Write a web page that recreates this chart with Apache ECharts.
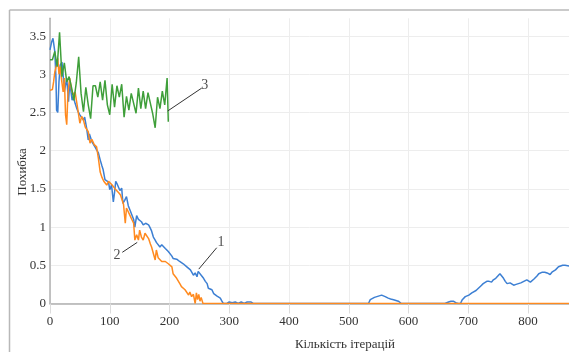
<!DOCTYPE html>
<html>
<head>
<meta charset="utf-8">
<script src="https://cdn.jsdelivr.net/npm/echarts@6/dist/echarts.min.js"></script>
<style>
  html, body { margin: 0; padding: 0; background: #fff; }
  #chart { width: 569px; height: 352px; }
</style>
</head>
<body>
<div id="chart"></div>
<script>
// крива 1 (синя)
const iter1 = [0, 3, 5, 8, 10, 11, 13, 14, 15, 17, 20, 22, 24, 25, 28, 31, 33, 37, 39, 42, 45, 47, 50, 53, 56, 58, 61, 64, 66, 68, 70, 73, 76, 78, 81, 84, 87, 89, 92, 95, 98, 100, 103, 106, 108, 110, 112, 115, 117, 120, 122, 125, 128, 131, 134, 137, 140, 142, 145, 148, 150, 153, 156, 160, 165, 167, 170, 173, 176, 178, 181, 184, 187, 190, 193, 195, 198, 201, 204, 206, 209, 212, 215, 217, 220, 223, 226, 229, 232, 235, 237, 240, 243, 246, 248, 251, 254, 257, 260, 263, 265, 268, 271, 274, 276, 279, 282, 285, 287, 290, 293, 296, 300, 305, 310, 315, 320, 325, 330, 333, 336, 340, 505, 507, 509, 533, 536, 539, 543, 547, 551, 555, 558, 561, 564, 566, 570, 575, 579, 583, 588, 655, 658, 661, 667, 671, 675, 679, 683, 687, 690, 692, 695, 698, 701, 703, 706, 709, 713, 717, 721, 725, 728, 731, 735, 739, 742, 746, 749, 753, 756, 759, 762, 765, 768, 770, 773, 776, 780, 784, 788, 791, 793, 796, 798, 801, 804, 807, 810, 812, 815, 818, 820, 824, 828, 832, 835, 837, 840, 843, 846, 848, 851, 854, 858, 862, 865, 869]
const err1 = [3.32, 3.43, 3.47, 3.30, 2.95, 2.53, 2.50, 2.49, 2.90, 3.12, 3.16, 2.99, 2.77, 2.79, 2.95, 2.64, 2.90, 2.66, 2.71, 2.62, 2.55, 2.51, 2.47, 2.47, 2.40, 2.44, 2.31, 2.14, 2.22, 2.20, 2.12, 2.10, 2.04, 2.01, 1.97, 1.88, 1.80, 1.75, 1.62, 1.60, 1.59, 1.49, 1.55, 1.33, 1.45, 1.60, 1.57, 1.55, 1.48, 1.51, 1.31, 1.35, 1.40, 1.28, 1.22, 1.22, 1.10, 1.00, 1.15, 1.10, 1.09, 1.07, 1.03, 1.05, 1.03, 1.00, 0.95, 0.87, 0.83, 0.80, 0.79, 0.74, 0.77, 0.77, 0.72, 0.70, 0.68, 0.70, 0.62, 0.59, 0.59, 0.58, 0.56, 0.55, 0.57, 0.52, 0.50, 0.48, 0.50, 0.44, 0.42, 0.37, 0.40, 0.35, 0.42, 0.44, 0.36, 0.33, 0.29, 0.26, 0.20, 0.22, 0.18, 0.13, 0.13, 0.10, 0.08, 0.07, 0.04, 0, 0.02, 0, 0.02, 0.01, 0.02, 0, 0.02, 0, 0.02, 0, 0.02, 0, 0, 0.02, 0, 0, 0.05, 0.07, 0.08, 0.09, 0.10, 0.11, 0.10, 0.09, 0.08, 0.07, 0.06, 0.05, 0.04, 0.03, 0, 0, 0.02, 0, 0.02, 0.03, 0.03, 0.01, 0, 0, 0.05, 0.07, 0.09, 0.10, 0.11, 0.12, 0.14, 0.15, 0.17, 0.20, 0.23, 0.26, 0.28, 0.29, 0.29, 0.28, 0.31, 0.33, 0.35, 0.39, 0.36, 0.33, 0.29, 0.26, 0.28, 0.27, 0.25, 0.24, 0.25, 0.26, 0.27, 0.28, 0.29, 0.30, 0.31, 0.29, 0.28, 0.30, 0.32, 0.33, 0.36, 0.39, 0.40, 0.41, 0.41, 0.40, 0.39, 0.38, 0.41, 0.42, 0.44, 0.46, 0.48, 0.50, 0.50, 0.50, 0.51, 0.49]

// крива 2 (помаранчева)
const iter2 = [0, 4, 6, 8, 11, 13, 15, 17, 19, 22, 24, 26, 28, 30, 33, 36, 39, 42, 45, 47, 50, 53, 56, 59, 61, 64, 67, 70, 74, 78, 81, 84, 87, 90, 92, 95, 98, 101, 104, 106, 109, 112, 115, 118, 120, 123, 126, 128, 131, 134, 137, 139, 140, 142, 145, 148, 150, 153, 156, 159, 162, 165, 168, 170, 173, 176, 178, 181, 184, 187, 190, 193, 195, 198, 201, 204, 206, 209, 212, 215, 218, 220, 223, 226, 229, 232, 234, 237, 240, 243, 245, 247, 249, 251, 253, 256, 259, 869]
const err2 = [2.79, 2.80, 2.90, 3.03, 3.12, 3.21, 3.00, 3.10, 2.95, 2.77, 2.95, 2.47, 2.34, 2.75, 2.95, 2.80, 2.73, 2.77, 2.62, 2.60, 2.36, 2.45, 2.40, 2.31, 2.29, 2.25, 2.10, 2.15, 2.08, 2.05, 1.90, 1.72, 1.65, 1.60, 1.62, 1.55, 1.60, 1.58, 1.55, 1.57, 1.50, 1.52, 1.45, 1.42, 1.40, 1.30, 1.05, 1.25, 1.27, 1.15, 1.10, 1.09, 1.05, 0.83, 0.90, 0.83, 0.96, 0.87, 0.83, 0.92, 0.94, 0.85, 0.78, 0.74, 0.72, 0.57, 0.70, 0.60, 0.59, 0.55, 0.56, 0.55, 0.57, 0.52, 0.53, 0.48, 0.39, 0.36, 0.33, 0.31, 0.25, 0.22, 0.24, 0.18, 0.18, 0.11, 0.15, 0.09, 0.12, 0, 0.14, 0.05, 0.12, 0.03, 0.08, 0, 0, 0]

// крива 3 (зелена)
const iter3 = [0, 4, 8, 12, 16, 20, 24, 28, 32, 36, 40, 44, 48, 52, 56, 60, 64, 68, 72, 76, 80, 84, 88, 92, 96, 100, 104, 108, 112, 116, 120, 124, 128, 132, 136, 140, 144, 148, 152, 156, 160, 164, 168, 172, 176, 180, 184, 188, 192, 196, 198]
const err3 = [3.19, 3.19, 3.30, 3.10, 3.55, 2.97, 3.15, 2.90, 2.97, 2.83, 2.66, 2.89, 3.23, 2.75, 2.51, 2.83, 2.60, 2.42, 2.85, 2.85, 2.70, 2.90, 2.66, 2.92, 2.60, 2.47, 2.87, 2.57, 2.85, 2.70, 2.87, 2.44, 2.71, 2.53, 2.75, 2.62, 2.49, 2.82, 2.55, 2.78, 2.55, 2.76, 2.62, 2.48, 2.30, 2.70, 2.55, 2.78, 2.60, 2.95, 2.38]

// виноски: [x1, y1, x2, y2], підпис біля кінця
const calloutLines = [[249, 0.45, 279, 0.73], [121, 0.67, 146, 0.80], [197, 2.52, 254, 2.82]]
const calloutText = ['1', '2', '3']
const calloutPos = [[286, 0.80], [112, 0.63], [259, 2.85]]

const pairs = (xs, ys) => xs.map((x, i) => [x, ys[i]])

const serif = 'Liberation Serif'
const chart = echarts.init(document.getElementById('chart'))

const series = [
  { name: '1', data: pairs(iter1, err1), color: '#3c7fd3' },
  { name: '2', data: pairs(iter2, err2), color: '#ff8a1f' },
  { name: '3', data: pairs(iter3, err3), color: '#3f9f3a' }
].map(s => ({
  type: 'line',
  name: s.name,
  data: s.data,
  showSymbol: false,
  silent: true,
  lineStyle: { color: s.color, width: 1.5 },
  itemStyle: { color: s.color }
}))

calloutLines.forEach(l => {
  series.push({
    type: 'line',
    data: [[l[0], l[1]], [l[2], l[3]]],
    showSymbol: false,
    silent: true,
    lineStyle: { color: '#333', width: 1 },
    z: 5
  })
})

series.push({
  type: 'scatter',
  symbolSize: 0,
  silent: true,
  data: calloutPos.map((p, i) => ({ value: p, name: calloutText[i] })),
  label: {
    show: true,
    position: 'inside',
    formatter: p => p.name,
    fontFamily: serif,
    fontSize: 14,
    color: '#222'
  },
  z: 6
})

const option = {
  animation: false,
  backgroundColor: '#fff',
  grid: { left: 50, right: 0, top: 18.3, bottom: 48.5, outerBoundsMode: 'none' },
  graphic: [
    { type: 'line', shape: { x1: 9.5, y1: 10, x2: 569, y2: 10 }, style: { stroke: '#b8b8b8', lineWidth: 1.5 } },
    { type: 'line', shape: { x1: 9.5, y1: 10, x2: 9.5, y2: 352 }, style: { stroke: '#b8b8b8', lineWidth: 1.5 } }
  ],
  xAxis: {
    type: 'value',
    min: 0,
    max: 868.6,
    interval: 100,
    name: 'Кількість ітерацій',
    nameLocation: 'middle',
    nameGap: 35,
    nameMoveOverlap: false,
    nameTextStyle: { fontFamily: serif, fontSize: 13, color: '#333', padding: [0, 0, 0, 71] },
    axisLine: { lineStyle: { color: '#b0b0b0', width: 1.5 } },
    axisTick: { show: true, length: 10, lineStyle: { color: '#dcdcdc' } },
    axisLabel: { fontFamily: serif, fontSize: 13, color: '#333', margin: 12, showMaxLabel: false },
    splitLine: { show: true, lineStyle: { color: '#ededed' } }
  },
  yAxis: {
    type: 'value',
    min: 0,
    max: 3.733,
    interval: 0.5,
    name: 'Похибка',
    nameLocation: 'middle',
    nameGap: 21,
    nameMoveOverlap: false,
    nameTextStyle: { fontFamily: serif, fontSize: 13, color: '#333', padding: [0, 22, 0, 0] },
    axisLine: { show: true, lineStyle: { color: '#b0b0b0', width: 1.5 } },
    axisTick: { show: false },
    axisLabel: { fontFamily: serif, fontSize: 13, color: '#333', margin: 4, showMaxLabel: false },
    splitLine: { show: true, showMaxLine: false, lineStyle: { color: '#ededed' } }
  },
  series: series
}

chart.setOption(option)
window.addEventListener('resize', () => {
  chart.resize()
})
</script>
</body>
</html>
